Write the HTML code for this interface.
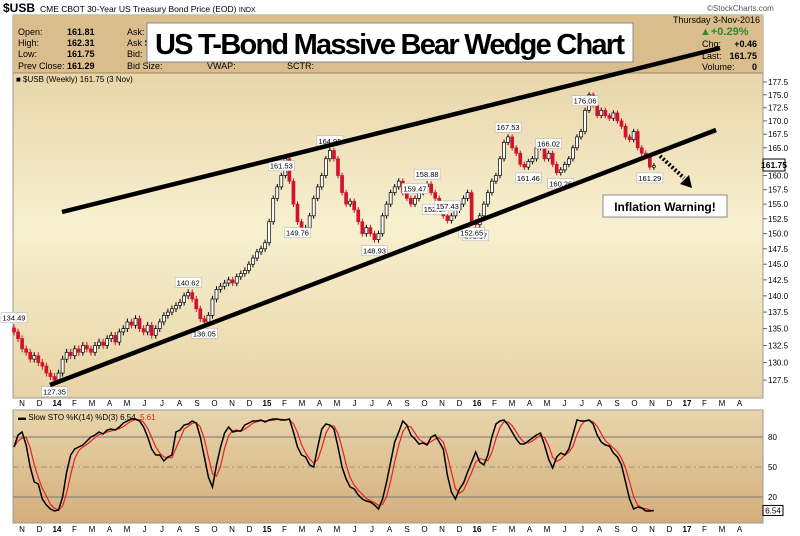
<!DOCTYPE html>
<html><head><meta charset="utf-8"><style>
body{margin:0;background:#fff;}
svg{display:block;font-family:"Liberation Sans",sans-serif;}
</style></head><body>
<svg id="c" width="800" height="536" viewBox="0 0 800 536">
<defs>
<linearGradient id="gm" x1="0" y1="0" x2="0" y2="1"><stop offset="0" stop-color="#e3cb9c"/><stop offset="0.55" stop-color="#f7f0cf"/><stop offset="1" stop-color="#e8d3a6"/></linearGradient>
<linearGradient id="gs" x1="0" y1="0" x2="0" y2="1"><stop offset="0" stop-color="#e8d5ab"/><stop offset="1" stop-color="#d3ae7c"/></linearGradient>
</defs>
<text x="3" y="12" font-size="12" font-weight="bold">$USB</text>
<text x="40" y="12" font-size="8.5">CME CBOT 30-Year US Treasury Bond Price (EOD) <tspan font-size="7">INDX</tspan></text>
<text x="707" y="11" font-size="8" fill="#555">©StockCharts.com</text>
<rect x="13" y="15" width="750" height="383" fill="url(#gm)" stroke="#999"/>
<rect x="13" y="15" width="750" height="58" fill="#dabd8c"/>
<line x1="13" y1="73" x2="763" y2="73" stroke="#8a7350" stroke-width="0.8"/>
<g font-size="9">
<text x="18" y="35">Open:</text><text x="67" y="35" font-weight="bold">161.81</text>
<text x="18" y="46">High:</text><text x="67" y="46" font-weight="bold">162.31</text>
<text x="18" y="57">Low:</text><text x="67" y="57" font-weight="bold">161.75</text>
<text x="18" y="69">Prev Close:</text><text x="67" y="69" font-weight="bold">161.29</text>
<text x="127" y="35">Ask:</text><text x="127" y="46">Ask S</text><text x="127" y="57">Bid:</text><text x="127" y="69">Bid Size:</text>
<text x="207" y="69">VWAP:</text><text x="287" y="69">SCTR:</text>
<text x="673" y="23">Thursday  3-Nov-2016</text>
<text x="700" y="35" fill="#2d8a2d" font-size="11" font-weight="bold">▲+0.29%</text>
<text x="702" y="47">Chg:</text><text x="757" y="47" text-anchor="end" font-weight="bold">+0.46</text>
<text x="702" y="59">Last:</text><text x="757" y="59" text-anchor="end" font-weight="bold">161.75</text>
<text x="702" y="70">Volume:</text><text x="757" y="70" text-anchor="end" font-weight="bold">0</text>
</g>
<text x="16" y="82" font-size="8">■ $USB (Weekly) 161.75 (3 Nov)</text>
<rect x="147" y="23" width="486" height="39" fill="#fff" stroke="#888"/>
<text x="155" y="54" font-size="29" font-weight="bold" textLength="470" lengthAdjust="spacing">US T-Bond Massive Bear Wedge Chart</text>
<g id="candles"></g>
<g id="paxis"></g>
<line x1="62" y1="212" x2="720" y2="48" stroke="#000" stroke-width="4.5"/>
<line x1="50" y1="385" x2="716" y2="130" stroke="#000" stroke-width="4.5"/>
<line x1="660" y1="156" x2="684" y2="178" stroke="#000" stroke-width="4" stroke-dasharray="2,2"/>
<polygon points="680,184 692,188 689,175" fill="#000"/>
<rect x="603" y="195" width="124" height="22" fill="#fff" stroke="#888"/>
<text x="665" y="211" font-size="12" font-weight="bold" text-anchor="middle">Inflation Warning!</text>
<rect x="763" y="159" width="22" height="12" fill="#fff" stroke="#000"/>
<text x="774" y="168" font-size="8.5" font-weight="bold" text-anchor="middle">161.75</text>
<rect x="13" y="410" width="750" height="113" fill="url(#gs)" stroke="#999"/>
<g id="stoch"></g>
<text x="18" y="420" font-size="8">▬ Slow STO %K(14) %D(3) 6.54, <tspan fill="#e02020">5.61</tspan></text>
<g id="months"></g>
</svg>
<script>
const closes=[134.5,133.5,132,131.5,130.5,131,130,129.5,128.5,128,127.5,128.5,130.5,131.5,131,132,131.5,132.5,132,131.5,132.5,133,132.5,133.5,134,133,134.5,135,136,135.5,136.5,135,134.5,135.5,134,135,136,137,137.5,138,138.5,139,140,140.5,139.5,138,136.5,136,137,139.5,141,141.5,142,142.5,142,143,143.5,144,145,146,147,147.5,148.5,152,156,158,160,163,159,155,152,150,151,153,156,158,160,163,164.5,163,160,157,155,155.5,154,152,150,151,150,149,150,153,155,157,158,159,157,156,155,156,157,158,158.5,157,156,155,153,152.2,153,154,155,156,157,152,151.5,153,155,157,159,160,163,166,167,165,164,162,161.5,162.5,163,165,166,163,164,162,160.5,161,162,163,165,167,168,172,175,173,171,172,171,170.5,171.5,170,169,167,166.5,168,165,164,163.5,161.5,161.75];
const stochK=[70,82,85,72,50,35,33,18,12,8,6,7,20,45,62,68,70,72,76,80,82,85,83,87,88,87,90,94,96,98,98,96,90,80,68,62,62,56,60,62,85,87,92,93,96,94,80,60,40,30,52,70,84,90,85,86,86,92,94,96,96,97,95,97,98,98,97,97,98,85,70,62,60,52,50,70,88,93,92,88,70,50,38,30,28,22,18,16,15,12,8,18,35,55,75,85,96,92,82,78,73,74,72,80,82,75,68,42,25,18,28,34,45,55,65,55,52,62,80,93,96,97,92,85,78,73,73,76,79,82,84,72,58,49,60,64,62,68,82,97,96,96,97,93,82,75,72,71,64,60,52,35,18,8,10,9,6,6,6.5];
const priceTicks=[127.5,130,132.5,135,137.5,140,142.5,145,147.5,150,152.5,155,157.5,160,165,167.5,170,172.5,175,177.5];
const stochTicks=[20,50,80];
const monthLabels=["N","D","14","F","M","A","M","J","J","A","S","O","N","D","15","F","M","A","M","J","J","A","S","O","N","D","16","F","M","A","M","J","J","A","S","O","N","D","17","F","M","A"];
const annotations=[[0,"134.49"],[10,"127.35"],[43,"140.62"],[47,"136.05"],[66,"161.53"],[70,"149.76"],[78,"164.95"],[89,"148.93"],[99,"159.47"],[102,"158.88"],[104,"152.17"],[114,"151.17"],[107,"157.43"],[113,"152.65"],[122,"167.53"],[127,"161.46"],[132,"166.02"],[135,"160.26"],[141,"176.06"],[157,"161.29"]];
const NS='http://www.w3.org/2000/svg';
const X=i=>14+i*4.05, PY=p=>82+901*Math.log(177.5/p), SY=v=>517-v*1.0;
function mk(t,a,parent){const e=document.createElementNS(NS,t);for(const k in a)e.setAttribute(k,a[k]);parent.appendChild(e);return e;}
const cg=document.getElementById('candles');
const highs=[],lows=[];
closes.forEach((c,i)=>{
 const o=i?closes[i-1]:c+0.6, up=c>=o;
 const hi=Math.max(o,c)+0.5, lo=Math.min(o,c)-0.5; highs.push(hi);lows.push(lo);
 const g=mk('g',{},cg);
 
 
 mk('line',{x1:X(i),x2:X(i),y1:PY(hi),y2:PY(lo),stroke:up?'#000':'#d0142c','stroke-width':1},g);
 const y1=PY(Math.max(o,c)),h=Math.max(1,PY(Math.min(o,c))-y1);
 mk('rect',{x:X(i)-1.5,y:y1,width:3,height:h,fill:up?'#fff':'#d0142c',stroke:up?'#000':'#d0142c','stroke-width':0.7},g);
});
annotations.forEach(([i,t])=>{
 const low=['127.35','149.76','136.05','148.93','152.17','151.17','152.65','161.46','160.26','161.29'].includes(t);
 const y=low?PY(lows[i])+11:PY(highs[i])-4;
 const r=mk('rect',{x:X(i)-13,y:y-8,width:26,height:10,fill:'#fff',stroke:'#aaa','stroke-width':0.5},cg);
 
 
 const tx=mk('text',{x:X(i),y:y,'font-size':7.5,'text-anchor':'middle'},cg);tx.textContent=t;
});
const pa=document.getElementById('paxis');
priceTicks.forEach(p=>{
 mk('line',{x1:763,x2:767,y1:PY(p),y2:PY(p),stroke:'#666'},pa);
 const t=mk('text',{x:768,y:PY(p)+3,'font-size':8},pa);
 
 
 t.textContent=p.toFixed(1);
});
const sg=document.getElementById('stoch');
stochTicks.forEach(v=>{
 mk('line',{x1:13,x2:763,y1:SY(v),y2:SY(v),stroke:v==50?'#a09070':'#777','stroke-dasharray':v==50?'6,3,2,3':'','stroke-width':1},sg);
 const t=mk('text',{x:768,y:SY(v)+3,'font-size':8},sg);
 
 
 t.textContent=v;
});
const stochD=stochK.map((v,i)=>{const a=stochK.slice(Math.max(0,i-2),i+1);return a.reduce((s,x)=>s+x,0)/a.length;});
const dl=mk('polyline',{points:stochD.map((v,i)=>X(i)+','+SY(v)).join(' '),fill:'none',stroke:'#e82020','stroke-width':1.2},sg);


const kl=mk('polyline',{points:stochK.map((v,i)=>X(i)+','+SY(v)).join(' '),fill:'none',stroke:'#000','stroke-width':1.5},sg);


const kt=mk('rect',{x:763,y:SY(6.54)-5,width:20,height:10,fill:'#fff',stroke:'#000'},sg);


const ktt=mk('text',{x:773,y:SY(6.54)+3,'font-size':8,'text-anchor':'middle'},sg);ktt.textContent='6.54';
const mg=document.getElementById('months');
const monthX=i=>22+i*17.5;
monthLabels.forEach((m,i)=>{
 [406,532].forEach(y=>{
  const t=mk('text',{x:monthX(i),y:y,'font-size':8,'text-anchor':'middle','font-weight':/\d/.test(m)?'bold':'normal'},mg);
  
  
  t.textContent=m;
 });
});
</script>
</body></html>
